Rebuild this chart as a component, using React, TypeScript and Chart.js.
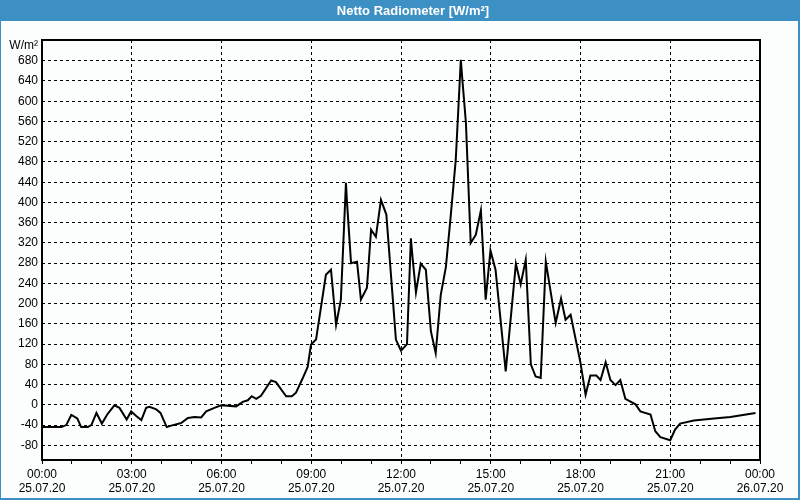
import React, { useEffect, useRef } from 'react';
import { Chart, registerables } from 'chart.js';

Chart.register(...registerables);

const TITLE = 'Netto Radiometer [W/m²]';
const UNIT = 'W/m²';

// time of day in hours (25.07.20)
const hours = [
  0, 0.65, 0.81, 0.98, 1.18, 1.31, 1.53, 1.65, 1.82, 2.0, 2.18, 2.42, 2.59, 2.83, 2.98, 3.15,
  3.32, 3.48, 3.59, 3.82, 3.96, 4.17, 4.32, 4.65, 4.88, 5.1, 5.32, 5.49, 5.76, 5.99, 6.49, 6.71,
  6.88, 7.01, 7.16, 7.32, 7.66, 7.82, 8.16, 8.35, 8.49, 8.71, 8.88, 8.99, 9.16, 9.49, 9.66, 9.83,
  9.99, 10.16, 10.19, 10.33, 10.53, 10.66, 10.86, 11.0, 11.16, 11.33, 11.51, 11.83, 12.0, 12.2,
  12.33, 12.39, 12.5, 12.66, 12.83, 13.0, 13.16, 13.33, 13.5, 13.66, 13.83, 14.0, 14.03, 14.17,
  14.33, 14.5, 14.67, 14.83, 14.99, 15.16, 15.5, 15.84, 16.0, 16.17, 16.34, 16.5, 16.67, 16.84,
  17.17, 17.35, 17.5, 17.67, 18.0, 18.17, 18.33, 18.53, 18.67, 18.84, 19.0, 19.17, 19.33, 19.5,
  19.84, 20.0, 20.34, 20.5, 20.67, 21.0, 21.16, 21.33, 21.79, 22.46, 23.01, 23.85,
];

// net radiation in W/m²
const values = [
  -44, -44, -40, -20, -27, -44, -44, -40, -16, -37, -19, -1, -6, -29, -13, -22,
  -30, -6, -4, -9, -16, -44, -41, -36, -26, -24, -25, -13, -6, -1, -3, 6,
  9, 17, 12, 18, 48, 45, 17, 17, 24, 52, 75, 119, 129, 257, 267, 158,
  208, 439, 405, 280, 283, 208, 231, 346, 332, 405, 376, 129, 107, 120,
  329, 289, 222, 279, 267, 145, 102, 218, 272, 372, 484, 682, 658, 557,
  320, 336, 384, 208, 305, 267, 66, 279, 238, 287, 80, 56, 53, 283,
  162, 210, 168, 178, 83, 20, 58, 58, 49, 84, 49, 39, 49, 12,
  1, -13, -19, -52, -64, -70, -49, -37, -31, -27, -24, -16,
];

const yTicks = [-80, -40, 0, 40, 80, 120, 160, 200, 240, 280, 320, 360, 400, 440, 480, 520, 560, 600, 640, 680];
const xLabelHours = [0, 3, 6, 9, 12, 15, 18, 21, 24];
const xTimeLabels = ['00:00', '03:00', '06:00', '09:00', '12:00', '15:00', '18:00', '21:00', '00:00'];
const xDateLabels = ['25.07.20', '25.07.20', '25.07.20', '25.07.20', '25.07.20', '25.07.20', '25.07.20', '25.07.20', '26.07.20'];

const FONT = '"Liberation Sans", Arial, sans-serif';

const framePlugin = {
  id: 'frame',
  beforeDraw(chart: any) {
    const { ctx, width, height } = chart;
    ctx.save();
    ctx.fillStyle = '#fbfefc';
    ctx.fillRect(0, 0, width, height);
    ctx.fillStyle = '#3d90c4';
    ctx.fillRect(0, 0, width, 21);
    ctx.fillRect(0, 0, 1, height);
    ctx.fillRect(width - 2, 0, 2, height);
    ctx.fillRect(0, height - 2, width, 2);
    ctx.fillStyle = '#ffffff';
    ctx.font = 'bold 13px ' + FONT;
    ctx.textAlign = 'center';
    ctx.textBaseline = 'middle';
    ctx.fillText(TITLE, 413, 11);
    ctx.fillStyle = '#000000';
    ctx.font = '12px ' + FONT;
    ctx.textAlign = 'right';
    ctx.fillText(UNIT, 38, 46);
    ctx.restore();
  },
  afterDraw(chart: any) {
    const { ctx } = chart;
    const { left, top, right, bottom } = chart.chartArea;
    ctx.save();
    ctx.strokeStyle = '#000000';
    ctx.lineWidth = 2;
    ctx.setLineDash([]);
    ctx.strokeRect(left, top, right - left, bottom - top);
    ctx.restore();
  },
};

export default function App() {
  const ref = useRef<HTMLCanvasElement | null>(null);

  useEffect(() => {
    document.body.style.margin = '0';
    if (!ref.current) return;
    const chart = new Chart(ref.current, {
      type: 'line',
      data: {
        datasets: [
          {
            data: hours.map((h, i) => ({ x: h, y: values[i] })),
            borderColor: '#000000',
            borderWidth: 2,
            pointRadius: 0,
            tension: 0,
            fill: false,
          },
        ],
      },
      options: {
        animation: false,
        responsive: false,
        devicePixelRatio: 1,
        layout: { padding: { top: 40, right: 40, left: 0, bottom: 0 } },
        plugins: {
          legend: { display: false },
          tooltip: { enabled: false },
          title: { display: false },
        },
        scales: {
          x: {
            type: 'linear',
            min: 0,
            max: 24,
            afterBuildTicks: (scale: any) => {
              const t = [];
              for (let h = 0; h <= 24; h++) t.push({ value: h });
              scale.ticks = t;
            },
            afterFit: (scale: any) => {
              scale.height = 40;
            },
            ticks: {
              autoSkip: false,
              maxRotation: 0,
              minRotation: 0,
              padding: 3,
              color: '#000000',
              font: { family: FONT, size: 12, lineHeight: 1.2 },
              callback: (v: any) => {
                const idx = xLabelHours.indexOf(Number(v));
                return idx >= 0 ? [xTimeLabels[idx], xDateLabels[idx]] : '';
              },
            },
            grid: {
              color: (c: any) => (c.tick && xLabelHours.includes(c.tick.value) ? '#000000' : 'rgba(0,0,0,0)'),
              tickColor: '#000000',
              tickLength: 4,
              lineWidth: 1,
              drawTicks: true,
            },
            border: { display: false, dash: [3, 3] },
          },
          y: {
            type: 'linear',
            min: -109,
            max: 721,
            afterBuildTicks: (scale: any) => {
              scale.ticks = yTicks.map((v) => ({ value: v }));
            },
            afterFit: (scale: any) => {
              scale.width = 42;
            },
            ticks: {
              padding: 4,
              color: '#000000',
              font: { family: FONT, size: 12 },
              callback: (v: any) => String(v),
            },
            grid: {
              color: '#000000',
              lineWidth: 1,
              drawTicks: false,
              tickLength: 0,
            },
            border: { display: false, dash: [3, 3] },
          },
        },
      },
      plugins: [framePlugin],
    } as any);
    return () => chart.destroy();
  }, []);

  return (
    <div style={{ width: 800, height: 500 }}>
      <canvas ref={ref} width={800} height={500} style={{ display: 'block', width: 800, height: 500 }} />
    </div>
  );
}
